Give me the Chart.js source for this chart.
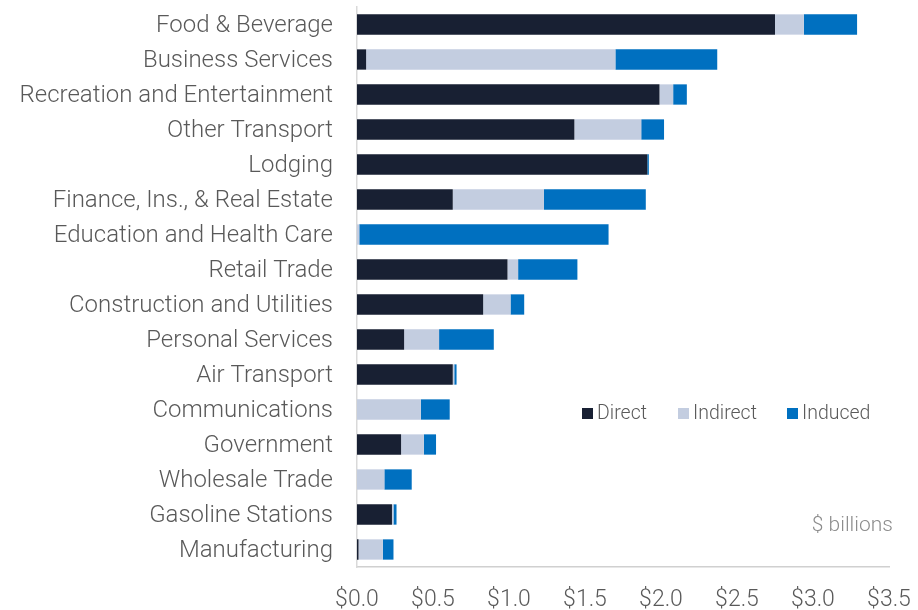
<!DOCTYPE html>
<html>
<head>
<meta charset="utf-8">
<script src="https://cdn.jsdelivr.net/npm/chart.js@4.4.1/dist/chart.umd.min.js"></script>
<style>
  html, body { margin: 0; padding: 0; background: #fff; }
  #wrap { width: 918px; height: 610px; position: relative; }
</style>
</head>
<body>
<div id="wrap"><canvas id="impactChart"></canvas></div>
<script>
const categories = [
  "Food & Beverage",
  "Business Services",
  "Recreation and Entertainment",
  "Other Transport",
  "Lodging",
  "Finance, Ins., & Real Estate",
  "Education and Health Care",
  "Retail Trade",
  "Construction and Utilities",
  "Personal Services",
  "Air Transport",
  "Communications",
  "Government",
  "Wholesale Trade",
  "Gasoline Stations",
  "Manufacturing",
];
const direct = [2.75, 0.06, 1.99, 1.43, 1.91, 0.63, 0, 0.99, 0.83, 0.31, 0.63, 0, 0.29, 0, 0.23, 0.01];
const indirect = [0.19, 1.64, 0.09, 0.44, 0, 0.6, 0.015, 0.07, 0.18, 0.23, 0.01, 0.42, 0.15, 0.18, 0.01, 0.16];
const induced = [0.35, 0.67, 0.09, 0.15, 0.01, 0.67, 1.64, 0.39, 0.09, 0.36, 0.015, 0.19, 0.08, 0.18, 0.02, 0.07];
const xTicks = [0, 0.5, 1, 1.5, 2, 2.5, 3, 3.5];

const FONT = "'Roboto Light', Roboto, 'Liberation Sans', sans-serif";
const TEXT = "#595959";

// legend + unit note sit inside the plot area
const insideLegend = {
  id: "insideLegend",
  afterDraw(chart) {
    const ctx = chart.ctx;
    const xs = [582, 678, 787];
    ctx.save();
    ctx.font = "300 19.5px " + FONT;
    ctx.textBaseline = "middle";
    chart.data.datasets.forEach((ds, i) => {
      ctx.fillStyle = ds.backgroundColor;
      ctx.fillRect(xs[i], 408, 11, 11);
      ctx.fillStyle = TEXT;
      ctx.fillText(ds.label, xs[i] + 15, 413);
    });
    ctx.font = "300 21px " + FONT;
    ctx.fillStyle = "#8c8c8c";
    ctx.textAlign = "right";
    ctx.fillText("$ billions", 893, 525);
    ctx.restore();
  },
};

const ctx = document.getElementById("impactChart").getContext("2d");
new Chart(ctx, {
  type: "bar",
  data: {
    labels: categories,
    datasets: [
      { label: "Direct", data: direct, backgroundColor: "#182033" },
      { label: "Indirect", data: indirect, backgroundColor: "#c3cde0" },
      { label: "Induced", data: induced, backgroundColor: "#0070c0" },
    ],
  },
  options: {
    indexAxis: "y",
    responsive: true,
    maintainAspectRatio: false,
    animation: false,
    layout: { padding: { top: 7, right: 29, left: 0, bottom: 0 } },
    datasets: { bar: { categoryPercentage: 1, barPercentage: 0.58 } },
    scales: {
      x: {
        stacked: true,
        min: 0,
        max: 3.5,
        afterBuildTicks: (scale) => {
          scale.ticks = xTicks.map((v) => ({ value: v }));
        },
        afterFit: (scale) => {
          scale.height = 43;
          scale.paddingLeft = 0;
          scale.paddingRight = 0;
        },
        grid: { display: false, drawTicks: false },
        border: { display: true, color: "#d0d0d0", width: 1.5 },
        ticks: {
          padding: 18,
          color: TEXT,
          font: { family: FONT, size: 23, weight: "300" },
          callback: (v) => "$" + Number(v).toFixed(1),
        },
      },
      y: {
        stacked: true,
        afterFit: (scale) => {
          scale.width = 357;
          scale.paddingTop = 0;
          scale.paddingBottom = 0;
        },
        grid: { display: false, drawTicks: false },
        border: { display: true, color: "#d9d9d9", width: 1.5 },
        ticks: {
          padding: 24,
          color: TEXT,
          font: { family: FONT, size: 24, weight: "300" },
        },
      },
    },
    plugins: {
      legend: { display: false },
      tooltip: { enabled: false },
    },
  },
  plugins: [insideLegend],
});
</script>
</body>
</html>
